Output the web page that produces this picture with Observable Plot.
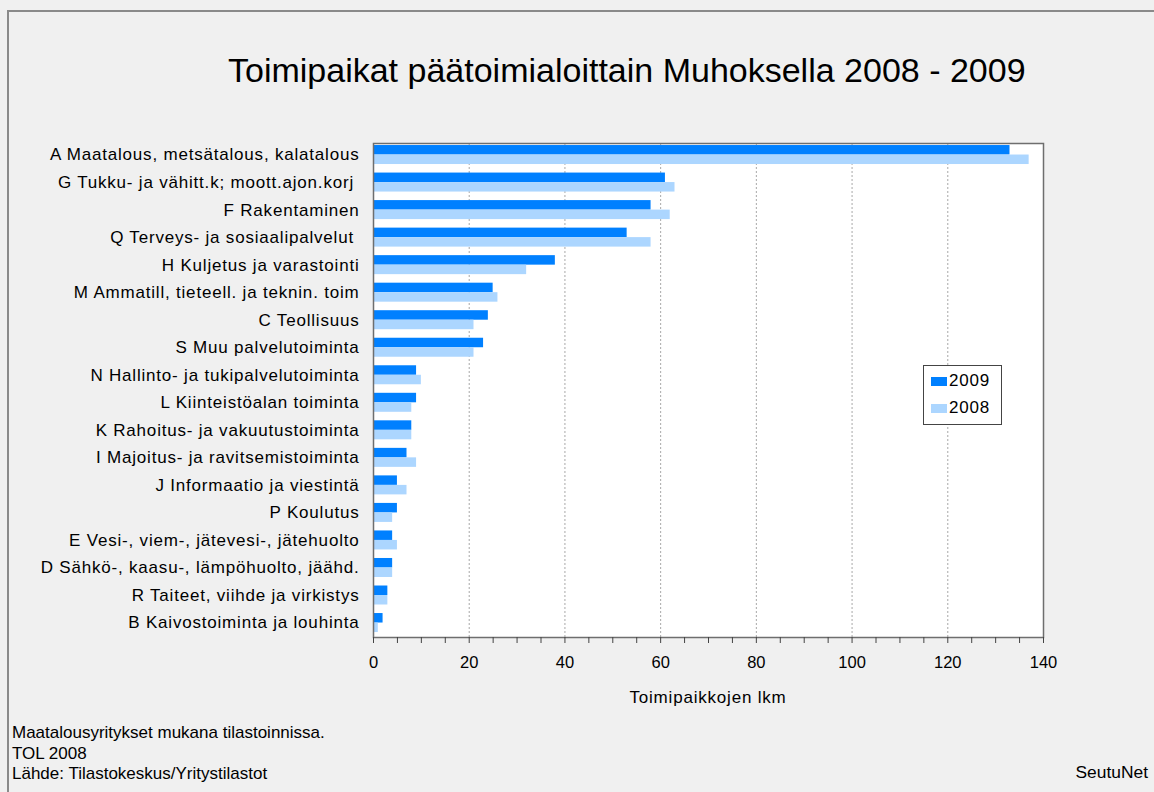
<!DOCTYPE html>
<html>
<head>
<meta charset="utf-8">
<script src="https://cdn.jsdelivr.net/npm/d3@7"></script>
<script src="https://cdn.jsdelivr.net/npm/@observablehq/plot@0.6"></script>
<style>
  html, body { margin: 0; padding: 0; background: #f0f0f0; }
  #page { position: relative; width: 1154px; height: 792px; background: #f0f0f0; font-family: "Liberation Sans", Arial, sans-serif; color: #000; overflow: hidden; }
  #frame { position: absolute; left: 7px; top: 10px; width: 1200px; height: 900px; border-top: 2px solid #8a8a8a; border-left: 2px solid #8a8a8a; }
  #title { position: absolute; left: 228px; top: 51px; font-size: 34px; white-space: nowrap; }
  #chart { position: absolute; left: 0; top: 130px; }
  #xlabel { position: absolute; left: 373px; width: 670px; top: 688px; text-align: center; font-size: 17px; letter-spacing: 0.8px; }
  #legend { position: absolute; left: 923px; top: 365px; width: 77px; height: 58px; background: #fff; border: 1px solid #444; font-size: 17px; letter-spacing: 0.8px; }
  .li { position: absolute; left: 7px; height: 20px; line-height: 20px; white-space: nowrap; }
  .sw { display: inline-block; width: 16px; height: 9px; margin-right: 2px; vertical-align: 0px; }
  #caption { position: absolute; left: 12px; top: 723px; font-size: 17px; line-height: 20.5px; }
  #source { position: absolute; right: 6px; top: 762px; font-size: 17.4px; }
</style>
</head>
<body>
<div id="page">
  <div id="frame"></div>
  <div id="title"></div>
  <div id="chart"></div>
  <div id="xlabel"></div>
  <div id="legend"></div>
  <div id="caption"></div>
  <div id="source"></div>
</div>
<script>
const titleText = "Toimipaikat päätoimialoittain Muhoksella 2008 - 2009";
const xLabel = "Toimipaikkojen lkm";
const categories = [
  "A Maatalous, metsätalous, kalatalous",
  "G Tukku- ja vähitt.k; moott.ajon.korj\u00a0",
  "F Rakentaminen",
  "Q Terveys- ja sosiaalipalvelut\u00a0",
  "H Kuljetus ja varastointi",
  "M Ammatill, tieteell. ja teknin. toim",
  "C Teollisuus",
  "S Muu palvelutoiminta",
  "N Hallinto- ja tukipalvelutoiminta",
  "L Kiinteistöalan toiminta",
  "K Rahoitus- ja vakuutustoiminta",
  "I Majoitus- ja ravitsemistoiminta",
  "J Informaatio ja viestintä",
  "P Koulutus",
  "E Vesi-, viem-, jätevesi-, jätehuolto",
  "D Sähkö-, kaasu-, lämpöhuolto, jäähd.",
  "R Taiteet, viihde ja virkistys",
  "B Kaivostoiminta ja louhinta"
];
const values2009 = [133, 61, 58, 53, 38, 25, 24, 23, 9, 9, 8, 7, 5, 5, 4, 4, 3, 2];
const values2008 = [137, 63, 62, 58, 32, 26, 21, 21, 10, 8, 8, 9, 7, 4, 5, 4, 3, 1];
const seriesNames = ["2009", "2008"];
const seriesColors = ["#0080ff", "#acd6ff"];
const majorTicks = [0, 20, 40, 60, 80, 100, 120, 140];
const gridTicks = [20, 40, 60, 80, 100, 120];
const minorTicks = [0,5,10,15,20,25,30,35,40,45,50,55,60,65,70,75,80,85,90,95,100,105,110,115,120,125,130,135,140];
const captionLines = ["Maatalousyritykset mukana tilastoinnissa.", "TOL 2008", "Lähde: Tilastokeskus/Yritystilastot"];
const sourceText = "SeutuNet";

const rows2009 = categories.map((c, i) => ({cat: c, v: values2009[i]}));
const rows2008 = categories.map((c, i) => ({cat: c, v: values2008[i]}));

const half = 9.5;
const chart = Plot.plot({
  width: 1154,
  height: 557,
  marginLeft: 373,
  marginRight: 111,
  marginTop: 13,
  marginBottom: 50,
  style: {background: "transparent", fontFamily: "'Liberation Sans', Arial, sans-serif", fontSize: "16px", color: "#000"},
  x: {domain: [0, 140]},
  y: {domain: categories, paddingInner: 0.31, paddingOuter: 0.127, align: 0.29, round: false},
  marks: [
    Plot.frame({fill: "white", stroke: "none"}),
    Plot.ruleX(gridTicks, {stroke: "#a8a8a8", strokeDasharray: "2,2", strokeWidth: 1}),
    Plot.barX(rows2009, {x: "v", y: "cat", fill: seriesColors[0], insetBottom: half}),
    Plot.barX(rows2008, {x: "v", y: "cat", fill: seriesColors[1], insetTop: half}),
    Plot.frame({stroke: "#6e6e6e", strokeWidth: 1.5}),
    Plot.axisX({ticks: minorTicks, tickSize: 6, tickPadding: 13, tickFormat: d => majorTicks.includes(d) ? String(d) : "", fontSize: 16.5, label: null, stroke: "#444", fill: "#000"}),
    Plot.axisY({tickSize: 0, tickPadding: 14, fontSize: 17, label: null, fill: "#000"})
  ]
});
d3.select(chart).selectAll('g[aria-label="y-axis tick label"]').style("letter-spacing", "0.8px");
document.getElementById("chart").appendChild(chart);

document.getElementById("title").textContent = titleText;
document.getElementById("xlabel").textContent = xLabel;
const legend = document.getElementById("legend");
seriesNames.forEach((s, i) => {
  const d = document.createElement("div");
  d.className = "li";
  d.style.top = (5 + i * 27) + "px";
  d.innerHTML = `<span class="sw" style="background:${seriesColors[i]}"></span>${s}`;
  legend.appendChild(d);
});
document.getElementById("caption").innerHTML = captionLines.join("<br>");
document.getElementById("source").textContent = sourceText;
</script>
</body>
</html>
